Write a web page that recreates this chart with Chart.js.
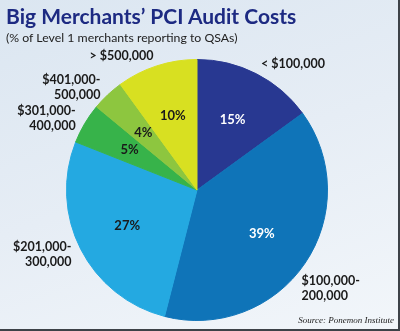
<!DOCTYPE html>
<html>
<head>
<meta charset="utf-8">
<script src="https://cdn.jsdelivr.net/npm/chart.js@4.4.0/dist/chart.umd.min.js"></script>
<style>
  html,body{margin:0;padding:0;}
  #wrap{position:relative;width:398px;height:329px;
    border-right:2px solid #3d4248;border-bottom:2px solid #3d4248;
    background:linear-gradient(160deg,#dbe6f1 0%,#e6edf5 50%,#f2f6fa 100%);
    overflow:hidden;}
  #title{position:absolute;left:6px;top:3px;font:bold 21px Lato,sans-serif;color:#1d2a82;white-space:nowrap;}
  #sub{position:absolute;left:6px;top:30px;font:12.3px Lato,sans-serif;color:#222;white-space:nowrap;}
  #src{position:absolute;right:4px;top:315px;font:italic 9px "Liberation Serif",serif;color:#222;}
  canvas{position:absolute;left:0;top:0;}
</style>
</head>
<body>
<div id="wrap">
  <canvas id="myChart" width="398" height="329"></canvas>
  <div id="title">Big Merchants’ PCI Audit Costs</div>
  <div id="sub">(% of Level 1 merchants reporting to QSAs)</div>
  <div id="src">Source: Ponemon Institute</div>
</div>
<script>
var categories=['< $100,000','$100,000-\n200,000','$201,000-\n300,000','$301,000-\n400,000','$401,000-\n500,000','> $500,000'];
var percents=[15,39,27,5,4,10];
var sliceColors=['#283891','#0f74b8','#24a9e1','#37b34a','#8dc63f','#d8e021'];
var pctTextColors=['#ffffff','#ffffff','#1a1a1a','#1a1a1a','#1a1a1a','#1a1a1a'];

var labelPlugin={
  id:'pieLabels',
  afterDatasetsDraw:function(chart){
    var ctx=chart.ctx;
    var meta=chart.getDatasetMeta(0);
    meta.data.forEach(function(arc,i){
      var p=arc.getProps(['x','y','startAngle','endAngle','outerRadius'],true);
      var mid=(p.startAngle+p.endAngle)/2;
      var c=Math.cos(mid),s=Math.sin(mid);
      ctx.save();
      // percentage inside
      ctx.font='bold 13px Lato, sans-serif';
      ctx.fillStyle=pctTextColors[i];
      ctx.textAlign='center';
      ctx.textBaseline='middle';
      ctx.fillText(percents[i]+'%',p.x+c*p.outerRadius*0.6,p.y+s*p.outerRadius*0.6);
      // category outside, big slice label pushed lower like the original
      var r=p.outerRadius*1.08;
      var ox=p.x+c*r,oy=p.y+s*r;
      if(percents[i]>30){ox-=12;oy+=19;}
      var lines=categories[i].split('\n');
      var lh=15;
      ctx.font='bold 12.5px Lato, sans-serif';
      ctx.fillStyle='#1a1a1a';
      ctx.textAlign=c>=0?'left':'right';
      ctx.textBaseline='middle';
      var top=oy-lh*(lines.length-1)/2;
      lines.forEach(function(t,k){
        ctx.fillText(t,ox,top+lh*k);
      });
      ctx.restore();
    });
  }
};

var myChart=new Chart(document.getElementById('myChart'),{
  type:'pie',
  data:{
    labels:categories,
    datasets:[{
      data:percents,
      backgroundColor:sliceColors,
      borderColor:sliceColors,
      borderWidth:1
    }]
  },
  options:{
    responsive:false,
    animation:false,
    layout:{padding:{left:66,right:70,top:59,bottom:8}},
    plugins:{legend:{display:false},tooltip:{enabled:false}}
  },
  plugins:[labelPlugin]
});
</script>
</body>
</html>
